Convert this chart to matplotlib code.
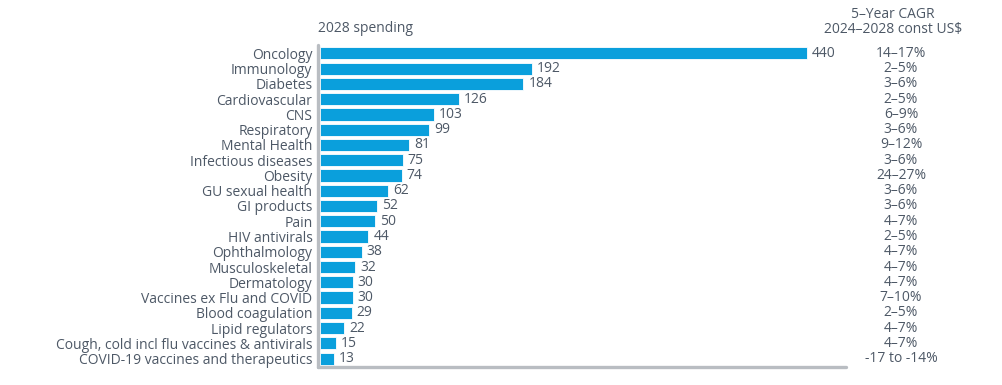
import matplotlib
matplotlib.use("Agg")
import matplotlib.pyplot as plt

categories = ["Oncology", "Immunology", "Diabetes", "Cardiovascular", "CNS", "Respiratory",
              "Mental Health", "Infectious diseases", "Obesity", "GU sexual health", "GI products",
              "Pain", "HIV antivirals", "Ophthalmology", "Musculoskeletal", "Dermatology",
              "Vaccines ex Flu and COVID", "Blood coagulation", "Lipid regulators",
              "Cough, cold incl flu vaccines & antivirals", "COVID-19 vaccines and therapeutics"]
spending = [440, 192, 184, 126, 103, 99, 81, 75, 74, 62, 52, 50, 44, 38, 32, 30, 30, 29, 22, 15, 13]
cagr = ["14–17%", "2–5%", "3–6%", "2–5%", "6–9%", "3–6%", "9–12%", "3–6%", "24–27%", "3–6%",
        "3–6%", "4–7%", "2–5%", "4–7%", "4–7%", "4–7%", "7–10%", "2–5%", "4–7%", "4–7%",
        "-17 to -14%"]

plt.rcParams['font.family'] = ['Open Sans', 'DejaVu Sans']
TXT = "#4d5866"
BAR = "#0a9fdc"
AX = "#b9bdc2"

W, H = 1003, 385
fig = plt.figure(figsize=(W / 100, H / 100), dpi=100)
ax = fig.add_axes([318 / W, 1 - 367 / H, (846 - 318) / W, (367 - 45) / H])

y = list(range(len(categories)))
ax.barh(y, spending, height=0.8, color=BAR, edgecolor="white", linewidth=0.6, left=1.5)
ax.set_ylim(len(categories) - 0.45, -0.55)
ax.set_xlim(0, 477)
ax.set_yticks(y)
ax.set_yticklabels(categories, fontsize=10, color=TXT)
ax.tick_params(axis="y", length=0, pad=4)
ax.set_xticks([])
for s in ["top", "right"]:
    ax.spines[s].set_visible(False)
for s in ["left", "bottom"]:
    ax.spines[s].set_color(AX)
    ax.spines[s].set_linewidth(2.4)
    ax.spines[s].set_capstyle("round")

for yi, v in zip(y, spending):
    ax.text(v + 6, yi, str(v), va="center", ha="left", fontsize=10, color=TXT)

for yi, c in zip(y, cagr):
    ax.text(901 / W, 0, c, transform=fig.transFigure, fontsize=10, color=TXT, ha="center",
            va="center")
# place CAGR labels in data-y coordinates using blended transform
for t in list(ax.texts)[len(spending):]:
    t.remove()
import matplotlib.transforms as mtrans
blend = mtrans.blended_transform_factory(fig.transFigure, ax.transData)
for yi, c in zip(y, cagr):
    ax.text(901 / W, yi, c, transform=blend, fontsize=10, color=TXT, ha="center", va="center",
            clip_on=False)

fig.text(318 / W, 1 - 28 / H, "2028 spending", fontsize=10, color=TXT, ha="left", va="center")
fig.text(893 / W, 1 - 14 / H, "5–Year CAGR", fontsize=10, color=TXT, ha="center", va="center")
fig.text(893 / W, 1 - 29 / H, "2024–2028 const US$", fontsize=10, color=TXT, ha="center", va="center")

fig.savefig("out.png", dpi=100)
